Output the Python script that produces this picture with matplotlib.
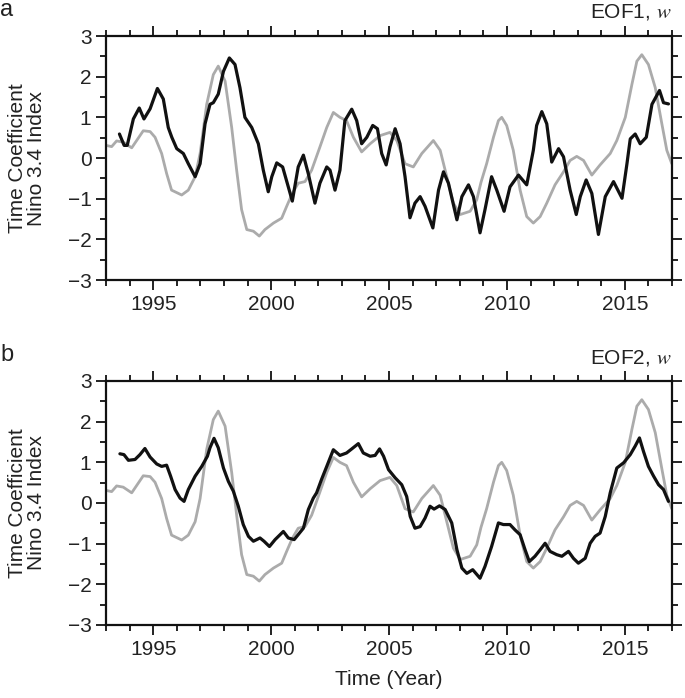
import matplotlib
matplotlib.use("Agg")
import matplotlib.pyplot as plt
from matplotlib.ticker import MultipleLocator

plt.rcParams['font.family'] = ['Liberation Sans', 'DejaVu Sans']
plt.rcParams['mathtext.fontset'] = 'stix'
plt.rcParams['axes.unicode_minus'] = True

# ----------------------------
# Data
# ----------------------------
# Nino 3.4 index (grey, same in both panels)
nino_year = [1993.0, 1993.24, 1993.45, 1993.73, 1994.09, 1994.3, 1994.58, 1994.87, 1995.08,
             1995.36, 1995.57, 1995.78, 1996.21, 1996.49, 1996.78, 1996.99, 1997.27, 1997.55,
             1997.76, 1998.05, 1998.33, 1998.54, 1998.75, 1998.97, 1999.25, 1999.5, 1999.74,
             2000.1, 2000.45, 2000.66, 2000.9, 2001.15, 2001.44, 2001.72, 2002.07, 2002.36,
             2002.64, 2002.92, 2003.2, 2003.49, 2003.84, 2004.2, 2004.62, 2005.04, 2005.33,
             2005.68, 2006.03, 2006.39, 2006.88, 2007.17, 2007.45, 2007.73, 2008.02, 2008.44,
             2008.72, 2008.9, 2009.14, 2009.43, 2009.64, 2009.78, 2009.99, 2010.27, 2010.56,
             2010.84, 2011.12, 2011.41, 2011.69, 2012.04, 2012.4, 2012.68, 2012.96, 2013.25,
             2013.6, 2013.95, 2014.38, 2014.66, 2015.02, 2015.3, 2015.51, 2015.72, 2016.0,
             2016.29, 2016.57, 2016.78, 2016.99]
nino_val = [0.31, 0.28, 0.42, 0.39, 0.25, 0.43, 0.67, 0.65, 0.51,
            0.11, -0.38, -0.79, -0.91, -0.79, -0.46, 0.11, 1.32, 2.05,
            2.26, 1.89, 0.75, -0.3, -1.27, -1.76, -1.8, -1.92, -1.76,
            -1.6, -1.48, -1.19, -0.87, -0.62, -0.58, -0.3, 0.27, 0.75,
            1.12, 1.0, 0.92, 0.51, 0.15, 0.35, 0.55, 0.63, 0.43,
            -0.14, -0.22, 0.11, 0.43, 0.19, -0.46, -1.11, -1.39, -1.31,
            -1.03, -0.6, -0.14, 0.51, 0.92, 1.0, 0.8, 0.19, -0.79,
            -1.44, -1.6, -1.44, -1.11, -0.66, -0.34, -0.06, 0.04, -0.06,
            -0.42, -0.17, 0.11, 0.43, 1.0, 1.81, 2.38, 2.54, 2.3,
            1.73, 0.84, 0.19, -0.14]

# EOF1 time coefficient (black, panel a)
eof1_year = [1993.57, 1993.77, 1993.9, 1994.16, 1994.41, 1994.61, 1994.87, 1995.18, 1995.43,
             1995.64, 1995.79, 1996.0, 1996.28, 1996.49, 1996.78, 1996.99, 1997.2, 1997.41,
             1997.55, 1997.76, 1997.98, 1998.23, 1998.47, 1998.68, 1998.89, 1999.18, 1999.46,
             1999.67, 1999.88, 2000.03, 2000.24, 2000.49, 2000.73, 2000.9, 2001.15, 2001.37,
             2001.58, 2001.86, 2002.07, 2002.36, 2002.5, 2002.71, 2002.92, 2003.13, 2003.42,
             2003.63, 2003.84, 2004.06, 2004.31, 2004.51, 2004.69, 2004.88, 2005.04, 2005.26,
             2005.47, 2005.68, 2005.89, 2006.1, 2006.32, 2006.53, 2006.86, 2007.1, 2007.31,
             2007.52, 2007.88, 2008.09, 2008.37, 2008.58, 2008.86, 2009.07, 2009.35, 2009.57,
             2009.88, 2010.13, 2010.49, 2010.84, 2011.12, 2011.26, 2011.48, 2011.69, 2011.9,
             2012.19, 2012.4, 2012.68, 2012.94, 2013.11, 2013.36, 2013.6, 2013.88, 2014.17,
             2014.52, 2014.88, 2015.09, 2015.23, 2015.44, 2015.65, 2015.91, 2016.15, 2016.47,
             2016.64, 2016.85]
eof1_val = [0.59, 0.31, 0.31, 0.96, 1.23, 0.96, 1.21, 1.71, 1.45,
            0.75, 0.51, 0.23, 0.11, -0.14, -0.46, -0.14, 0.84, 1.32,
            1.36, 1.57, 2.13, 2.46, 2.3, 1.73, 1.0, 0.75, 0.35,
            -0.3, -0.83, -0.46, -0.12, -0.22, -0.71, -1.06, -0.22, 0.07,
            -0.39, -1.11, -0.62, -0.22, -0.3, -0.79, -0.3, 0.92, 1.2,
            0.92, 0.35, 0.51, 0.8, 0.72, 0.11, -0.17, 0.27, 0.72,
            0.35, -0.46, -1.47, -1.11, -0.95, -1.19, -1.72, -0.79, -0.34,
            -0.62, -1.52, -0.95, -0.66, -0.95, -1.84, -1.27, -0.46, -0.79,
            -1.31, -0.71, -0.42, -0.66, 0.19, 0.8, 1.14, 0.84, -0.1,
            0.23, 0.03, -0.79, -1.39, -0.95, -0.54, -0.87, -1.88, -0.95,
            -0.58, -0.99, -0.14, 0.47, 0.59, 0.35, 0.51, 1.32, 1.66,
            1.36, 1.33]

# EOF2 time coefficient (black, panel b)
eof2_year = [1993.59, 1993.76, 1993.95, 1994.23, 1994.44, 1994.65, 1994.87, 1995.15, 1995.36,
             1995.57, 1995.74, 1995.93, 1996.14, 1996.31, 1996.49, 1996.78, 1997.06, 1997.3,
             1997.41, 1997.58, 1997.76, 1997.98, 1998.19, 1998.4, 1998.61, 1998.82, 1999.04,
             1999.25, 1999.53, 1999.7, 1999.93, 2000.17, 2000.52, 2000.73, 2000.98, 2001.37,
             2001.58, 2001.79, 2001.93, 2002.14, 2002.36, 2002.64, 2002.92, 2003.2, 2003.42,
             2003.7, 2003.91, 2004.2, 2004.41, 2004.6, 2004.77, 2004.98, 2005.26, 2005.54,
             2005.75, 2005.9, 2006.1, 2006.32, 2006.53, 2006.74, 2006.91, 2007.14, 2007.38,
             2007.66, 2007.88, 2008.09, 2008.3, 2008.55, 2008.86, 2009.07, 2009.35, 2009.64,
             2009.85, 2010.13, 2010.34, 2010.56, 2010.77, 2010.95, 2011.19, 2011.41, 2011.62,
             2011.83, 2012.11, 2012.33, 2012.61, 2012.82, 2013.03, 2013.32, 2013.53, 2013.74,
             2013.95, 2014.17, 2014.38, 2014.66, 2014.95, 2015.23, 2015.44, 2015.62, 2015.79,
             2016.0, 2016.22, 2016.43, 2016.64, 2016.85]
eof2_val = [1.21, 1.19, 1.05, 1.07, 1.19, 1.34, 1.13, 0.96, 0.9,
            0.93, 0.66, 0.33, 0.12, 0.04, 0.33, 0.66, 0.9, 1.15,
            1.36, 1.59, 1.36, 0.86, 0.53, 0.29, -0.08, -0.53, -0.82,
            -0.94, -0.86, -0.94, -1.07, -0.9, -0.7, -0.86, -0.9, -0.62,
            -0.16, 0.12, 0.25, 0.58, 0.9, 1.31, 1.17, 1.23, 1.33,
            1.46, 1.23, 1.15, 1.17, 1.33, 1.15, 0.82, 0.62, 0.45,
            0.16, -0.33, -0.62, -0.58, -0.37, -0.08, -0.15, -0.07, -0.16,
            -0.49, -1.15, -1.6, -1.73, -1.64, -1.85, -1.56, -1.07, -0.49,
            -0.53, -0.53, -0.66, -0.78, -1.15, -1.44, -1.31, -1.15, -0.99,
            -1.19, -1.27, -1.31, -1.19, -1.36, -1.48, -1.36, -0.99, -0.82,
            -0.74, -0.33, 0.25, 0.86, 0.99, 1.19, 1.4, 1.6, 1.27,
            0.9, 0.66, 0.45, 0.33, 0.04]

panels = [
    ("a", r"EOF1, $w$", eof1_year, eof1_val),
    ("b", r"EOF2, $w$", eof2_year, eof2_val),
]

# ----------------------------
# Figure
# ----------------------------
W, H = 685, 698
fig = plt.figure(figsize=(W / 100, H / 100), dpi=100)

ax_left = 106 / W
ax_width = (672 - 106) / W
ax_height = 244 / H
bottoms = [1 - 280 / H, 1 - 625 / H]

for (letter, title, yr, val), bot in zip(panels, bottoms):
    ax = fig.add_axes([ax_left, bot, ax_width, ax_height])
    ax.plot(nino_year, nino_val, color="#ababab", lw=2.0,
            solid_joinstyle="round", solid_capstyle="round")
    ax.plot(yr, val, color="#111111", lw=2.3,
            solid_joinstyle="round", solid_capstyle="round")

    ax.set_xlim(1993, 2017)
    ax.set_ylim(-3, 3)
    ax.xaxis.set_major_locator(MultipleLocator(5))
    ax.xaxis.set_minor_locator(MultipleLocator(1))
    ax.yaxis.set_major_locator(MultipleLocator(1))
    ax.yaxis.set_minor_locator(MultipleLocator(0.5))
    ax.set_xticks([1995, 2000, 2005, 2010, 2015])

    ax.tick_params(which="both", direction="out", top=True, right=True,
                   width=1.3, labelsize=15, color="#111111", labelcolor="#222222")
    ax.tick_params(which="major", length=7.5, pad=3)
    ax.tick_params(which="minor", length=4)
    for s in ax.spines.values():
        s.set_linewidth(1.6)
        s.set_color("#111111")

    # title above the right end
    ax.text(1.0, 1 + 18 / 244, title, transform=ax.transAxes, ha="right",
            va="baseline", fontsize=15, color="#222222")

    # panel letter
    y_top = bot + ax_height
    fig.text(0.0, y_top + 20 / H, letter, ha="left", va="baseline",
             fontsize=17, color="#222222")

    # two-line y label
    fig.text(27.5 / W, bot + ax_height / 2, "Time Coefficient\nNino 3.4 Index",
             rotation=90, ha="center", va="center", fontsize=15,
             linespacing=1.0, color="#222222")

    last_ax = ax

last_ax.set_xlabel("Time (Year)", fontsize=15, labelpad=8, color="#222222")

fig.savefig("out.png", dpi=100)
